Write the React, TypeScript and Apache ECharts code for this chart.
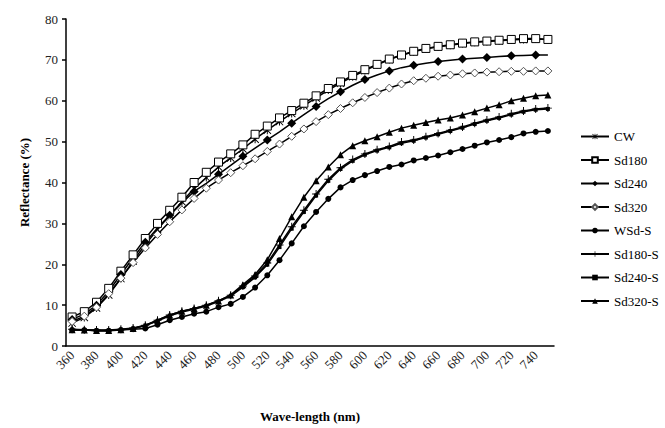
import React, { useEffect, useRef } from "react";
import * as echarts from "echarts";

const wavelengths = [
  "360","370","380","390","400","410","420","430","440","450",
  "460","470","480","490","500","510","520","530","540","550",
  "560","570","580","590","600","610","620","630","640","650",
  "660","670","680","690","700","710","720","730","740","750",
];

const cw = [5.6,7.0,9.3,12.5,16.5,20.8,24.8,28.5,32.0,35.3,38.5,41.2,43.8,46.0,48.2,50.6,52.8,54.9,56.9,58.8,60.7,62.6,64.3,65.9,67.4,68.8,70.1,71.1,72.0,72.7,73.2,73.6,74.0,74.3,74.5,74.7,74.9,75.0,75.1,75.0];
const sd180 = [7.1,8.4,10.7,14.1,18.3,22.3,26.3,30.0,33.2,36.4,40.0,42.5,45.0,47.0,49.2,51.8,53.8,55.8,57.6,59.4,61.2,63.0,64.6,66.2,67.6,68.9,70.2,71.2,72.1,72.8,73.3,73.7,74.1,74.4,74.6,74.8,75.0,75.2,75.2,75.0];
const sd240 = [6.5,7.8,10.0,13.4,17.5,21.6,25.4,28.9,32.0,35.0,37.8,39.8,42.0,44.2,46.4,48.4,50.4,52.4,54.5,56.6,58.6,60.5,62.2,63.8,65.2,66.3,67.3,68.1,68.7,69.2,69.6,69.9,70.2,70.4,70.6,70.8,71.0,71.1,71.2,71.2];
const sd320 = [6.0,7.3,9.5,12.8,16.6,20.4,24.0,27.3,30.4,33.3,36.1,38.6,40.6,42.4,44.1,45.8,47.6,49.4,51.3,53.1,54.9,56.6,58.1,59.5,60.8,62.0,63.1,64.1,64.9,65.5,66.0,66.3,66.6,66.8,67.0,67.1,67.2,67.2,67.3,67.3];
const wsdS = [3.9,3.9,3.7,3.7,3.9,4.1,4.3,5.2,6.3,7.1,7.9,8.4,9.5,10.3,12.0,14.3,17.3,21.0,25.1,29.3,32.8,36.0,38.8,40.6,41.8,42.8,43.8,44.4,45.4,46.0,46.6,47.4,48.2,49.0,49.8,50.4,51.1,52.0,52.4,52.6];
const sd180S = [4.1,4.0,3.9,3.9,4.1,4.4,5.1,6.3,7.6,8.5,9.2,10.0,11.1,12.4,14.7,17.1,20.3,24.7,29.2,33.2,37.2,40.8,43.6,45.6,47.0,48.0,48.8,49.9,50.4,51.2,52.0,52.8,53.6,54.5,55.3,56.0,56.8,57.5,58.0,58.2];
const sd240S = [4.0,3.9,3.8,3.8,4.0,4.3,5.0,6.1,7.4,8.3,9.0,9.8,10.9,12.2,14.4,16.8,19.9,24.2,28.7,32.8,36.8,40.4,43.3,45.3,46.8,47.8,48.6,49.6,50.2,51.0,51.8,52.6,53.4,54.3,55.1,55.8,56.6,57.3,57.8,58.0];
const sd320S = [4.0,3.9,3.8,3.8,4.0,4.3,5.0,6.3,7.6,8.5,9.2,10.0,11.0,12.5,15.0,17.5,21.1,26.3,31.6,36.4,40.4,43.8,46.8,49.0,50.2,51.2,52.3,53.3,54.0,54.7,55.3,55.8,56.5,57.3,58.2,59.0,60.0,60.6,61.2,61.4];

const yTicks = { min: 0, max: 80, interval: 10 };

const ASTERISK =
  "path://M4.4,0 L5.6,0 L5.6,10 L4.4,10 Z M0,0.8 L0.8,0 L10,9.2 L9.2,10 Z M9.2,0 L10,0.8 L0.8,10 L0,9.2 Z";
const PLUS = "path://M4.4,0 L5.6,0 L5.6,10 L4.4,10 Z M0,4.4 L10,4.4 L10,5.6 L0,5.6 Z";

const FONT = "'Liberation Serif', 'Times New Roman', serif";

export default function App() {
  const ref = useRef<HTMLDivElement>(null);
  useEffect(() => {
    if (!ref.current) return;
    const chart = echarts.init(ref.current, undefined, { renderer: "svg" });
    const mk = (
      name: string,
      data: number[],
      symbol: string,
      symbolSize: number,
      itemStyle: any
    ) => ({
      name,
      type: "line",
      data,
      symbol,
      symbolSize,
      showSymbol: true,
      lineStyle: { color: "#000", width: 1.5 },
      itemStyle,
      emphasis: { disabled: true },
    });
    const solid = { color: "#000", borderColor: "#000", borderWidth: 0 };
    chart.setOption({
      animation: false,
      backgroundColor: "#fff",
      textStyle: { fontFamily: FONT },
      grid: { left: 66, right: 111, top: 19, bottom: 77 },
      legend: {
        orient: "vertical",
        left: 575,
        top: 125,
        itemWidth: 28,
        itemHeight: 7,
        itemGap: 10.5,
        textStyle: { fontFamily: FONT, fontSize: 13, color: "#000" },
        data: ["CW", "Sd180", "Sd240", "Sd320", "WSd-S", "Sd180-S", "Sd240-S", "Sd320-S"],
      },
      xAxis: {
        type: "category",
        data: wavelengths,
        boundaryGap: true,
        name: "Wave-length (nm)",
        nameLocation: "middle",
        nameGap: 64,
        nameTextStyle: { fontFamily: FONT, fontSize: 13, fontWeight: "bold", color: "#000" },
        axisLine: { lineStyle: { color: "#000", width: 1.5 } },
        axisTick: { interval: 0, length: 4, lineStyle: { color: "#000", width: 1.5 } },
        axisLabel: {
          interval: 1,
          rotate: 45,
          fontFamily: FONT,
          fontSize: 13,
          color: "#222",
          margin: 7,
        },
        splitLine: { show: false },
      },
      yAxis: {
        type: "value",
        min: yTicks.min,
        max: yTicks.max,
        interval: yTicks.interval,
        name: "Reflectance (%)",
        nameLocation: "middle",
        nameGap: 35,
        nameTextStyle: { fontFamily: FONT, fontSize: 13, fontWeight: "bold", color: "#000" },
        axisLine: { show: true, lineStyle: { color: "#000", width: 1.5 } },
        axisTick: { show: true, length: 4, lineStyle: { color: "#000", width: 1.5 } },
        axisLabel: { fontFamily: FONT, fontSize: 13, color: "#222", margin: 8 },
        splitLine: { show: false },
      },
      series: [
        mk("CW", cw, ASTERISK, 8, solid),
        mk("Sd180", sd180, "rect", 8, { color: "#fff", borderColor: "#000", borderWidth: 1 }),
        mk("Sd240", sd240, "diamond", 9, solid),
        mk("Sd320", sd320, "diamond", 8, { color: "#fff", borderColor: "#555", borderWidth: 1 }),
        mk("WSd-S", wsdS, "circle", 6, solid),
        mk("Sd180-S", sd180S, PLUS, 8, solid),
        mk("Sd240-S", sd240S, "rect", 4, solid),
        mk("Sd320-S", sd320S, "triangle", 7, solid),
      ],
    });
    return () => chart.dispose();
  }, []);
  return <div ref={ref} style={{ width: 665, height: 428, position: "absolute", left: 0, top: 0 }} />;
}
